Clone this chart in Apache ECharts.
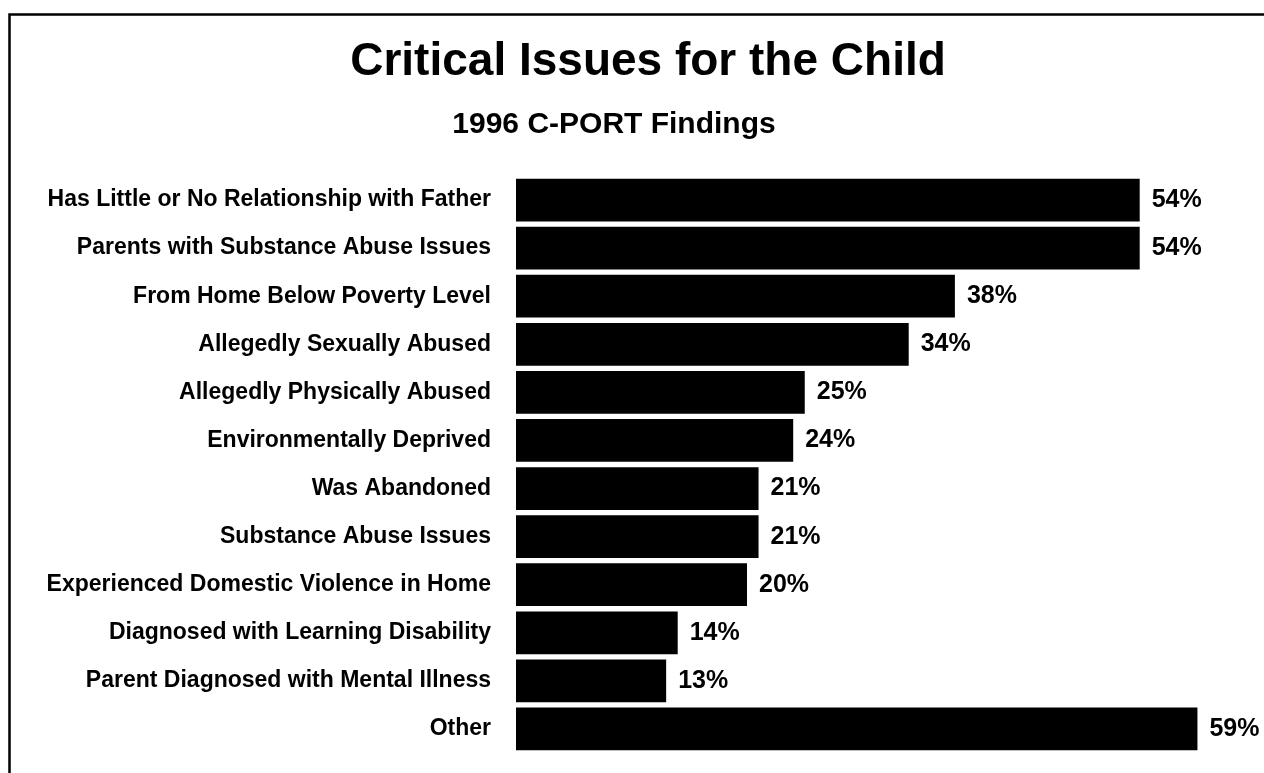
<!DOCTYPE html>
<html>
<head>
<meta charset="utf-8">
<script src="https://cdn.jsdelivr.net/npm/echarts@6/dist/echarts.min.js"></script>
<style>
html,body{margin:0;padding:0;background:#fff;}
#chart{width:1264px;height:773px;}
</style>
</head>
<body>
<div id="chart"></div>
<script>
var titleText = 'Critical Issues for the Child';
var subtitleText = '1996 C-PORT Findings';
var categories = [
  'Has Little or No Relationship with Father',
  'Parents with Substance Abuse Issues',
  'From Home Below Poverty Level',
  'Allegedly Sexually Abused',
  'Allegedly Physically Abused',
  'Environmentally Deprived',
  'Was Abandoned',
  'Substance Abuse Issues',
  'Experienced Domestic Violence in Home',
  'Diagnosed with Learning Disability',
  'Parent Diagnosed with Mental Illness',
  'Other'
];
var percentValues = [54, 54, 38, 34, 25, 24, 21, 21, 20, 14, 13, 59];

var FONT = '"Liberation Sans", Arial, Helvetica, sans-serif';
var chart = echarts.init(document.getElementById('chart'));
chart.setOption({
  backgroundColor: '#ffffff',
  animation: false,
  title: [
    {
      text: titleText, left: 643, top: 34, textAlign: 'center',
      textStyle: {fontFamily: FONT, fontWeight: 'bold', fontSize: 46, color: '#000'}
    },
    {
      text: subtitleText, left: 609, top: 105, textAlign: 'center',
      textStyle: {fontFamily: FONT, fontWeight: 'bold', fontSize: 30, color: '#000'}
    }
  ],
  graphic: [
    {
      type: 'rect', left: 7, top: 12, silent: true,
      shape: {x: 0, y: 0, width: 1280, height: 800},
      style: {fill: 'none', stroke: '#000', lineWidth: 2.5}
    }
  ],
  grid: {left: 516, right: 55, top: 176, bottom: 20, containLabel: false},
  xAxis: {
    type: 'value', min: 0, max: 60, show: false
  },
  yAxis: {
    type: 'category', data: categories, inverse: true,
    axisLine: {show: false}, axisTick: {show: false}, splitLine: {show: false},
    axisLabel: {
      margin: 25, color: '#000', fontFamily: FONT, fontWeight: 'bold', fontSize: 23
    }
  },
  series: [{
    type: 'bar', data: percentValues, barCategoryGap: '11%',
    itemStyle: {color: '#000'},
    label: {
      show: true, position: 'right', distance: 12,
      formatter: '{c}%', color: '#000', fontFamily: FONT, fontWeight: 'bold', fontSize: 25
    }
  }]
});
</script>
</body>
</html>
